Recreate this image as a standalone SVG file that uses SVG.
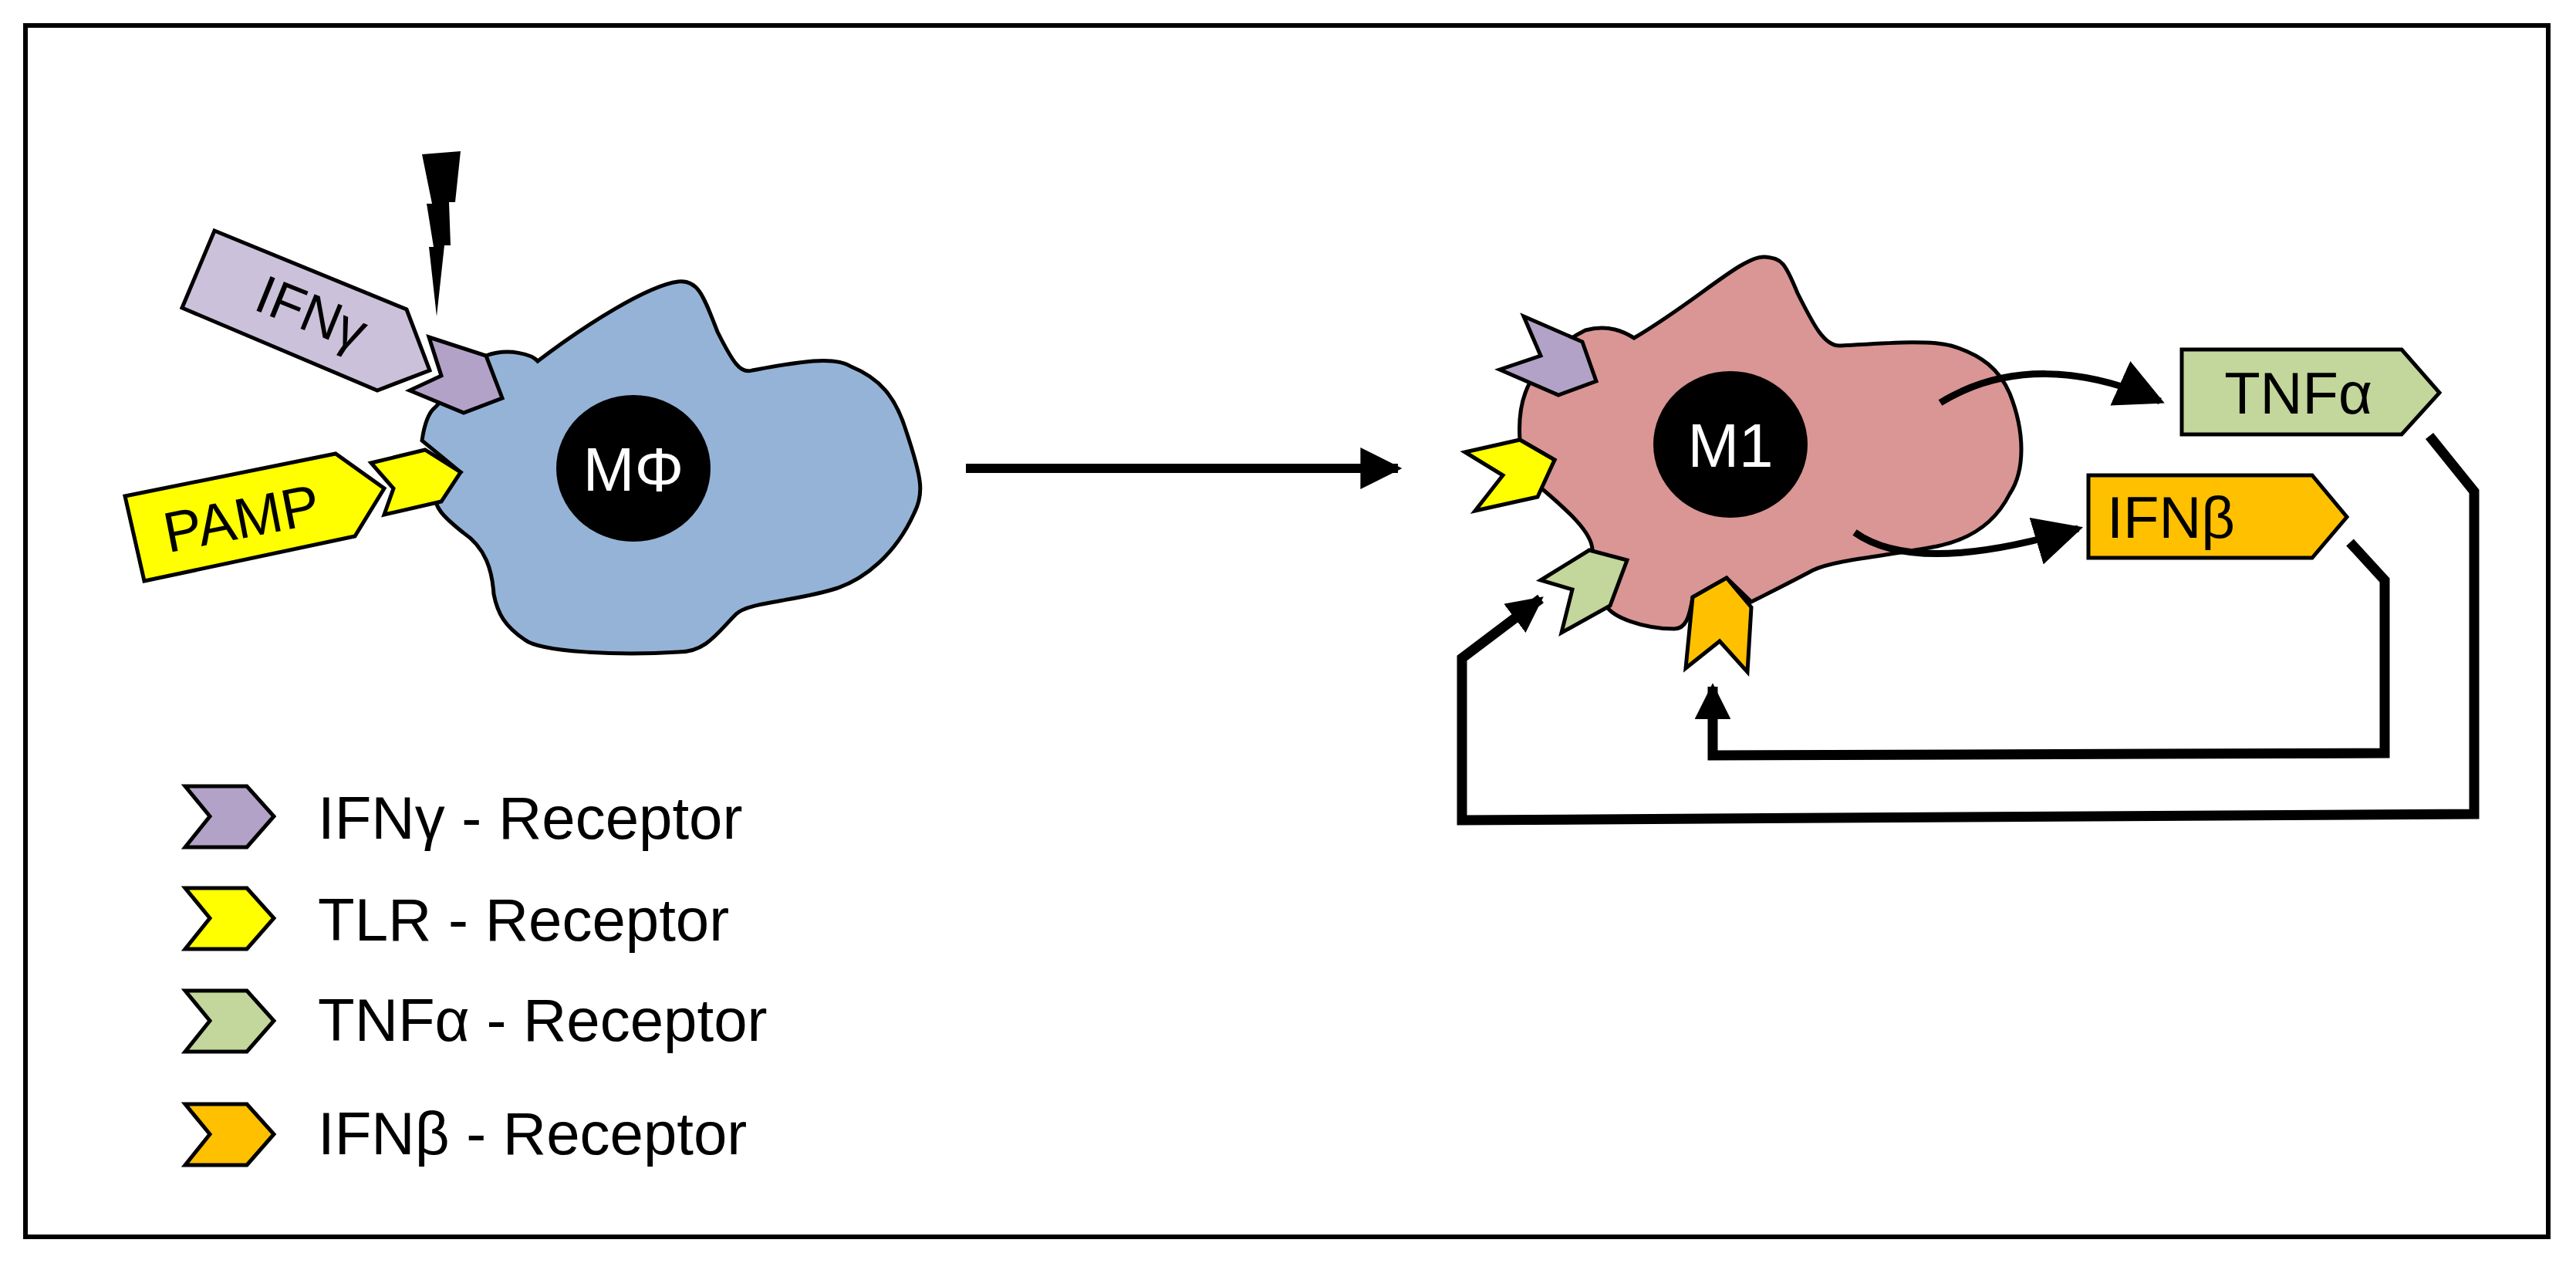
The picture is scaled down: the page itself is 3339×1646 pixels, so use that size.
<svg xmlns="http://www.w3.org/2000/svg" width="3339" height="1646" viewBox="0 0 3339 1646">
<defs>
<style>
.o{stroke:#000;stroke-width:5;stroke-linejoin:miter}
.t{font-family:"Liberation Sans",Arial,sans-serif;fill:#000}
.w{font-family:"Liberation Sans",Arial,sans-serif;fill:#fff;font-size:80px;text-anchor:middle}
.c{fill:none;stroke:#000;stroke-width:9}
.m{fill:none;stroke:#000;stroke-width:12}
.f{fill:none;stroke:#000;stroke-width:13;stroke-linejoin:miter}
</style>
<marker id="ah" viewBox="0 0 10 10" refX="9" refY="5" markerWidth="7" markerHeight="7" orient="auto" markerUnits="strokeWidth"><path d="M0,0 L10,5 L0,10 z" fill="#000"/></marker>
<marker id="ahm" viewBox="0 0 10 10" refX="9" refY="5" markerWidth="5.5" markerHeight="4.5" orient="auto" markerUnits="strokeWidth"><path d="M0,0 L10,5 L0,10 z" fill="#000"/></marker>
<marker id="ah2" viewBox="0 0 10 10" refX="9" refY="5" markerWidth="3.6" markerHeight="3.6" orient="auto" markerUnits="strokeWidth"><path d="M0,0 L10,5 L0,10 z" fill="#000"/></marker>
</defs>
<rect x="33" y="33" width="3270" height="1570" fill="#fff" stroke="#000" stroke-width="6"/>
<g id="lightning"><polygon points="547,200 597,196 590,262 582,262 584,318 576,318 566,410 556,320 562,320 553,264 560,264" fill="#000"/></g>
<g id="mphi-cell">
<path class="o" fill="#95b3d7" d="M630,461 C660,450 690,460 697,468 C760,420 840,370 879,365 C905,362 912,384 930,430 C950,470 960,485 975,480 C1030,470 1080,460 1103,475 C1140,490 1161,514 1175,560 C1195,620 1198,640 1185,665 C1160,720 1120,750 1086,762 C1030,780 970,780 954,796 C930,820 915,845 880,845 C800,850 700,845 680,829 C655,812 645,796 640,770 C638,740 630,710 600,690 C575,670 562,657 564,640 L597,612 L547,571 C550,550 555,535 564,528 Z"/>
<ellipse cx="821" cy="607" rx="100" ry="95" fill="#000"/>
<text class="w" x="821" y="636">MΦ</text>
</g>
<g id="ifng-receptor-left"><polygon class="o" fill="#b3a2c7" points="556,437 630,461 651,516 601,535 531,506 572,487"/></g>
<g id="tlr-receptor-left"><polygon class="o" fill="#ffff00" points="481,600 551,583 597,612 572,650 498,667 510,633"/></g>
<g id="ifng-label">
<polygon class="o" fill="#ccc1da" points="278,299 527,401 557,480 489,506 236,399"/>
<text class="t" font-size="70" text-anchor="middle" transform="translate(395,428) rotate(22)">IFNγ</text>
</g>
<g id="pamp-label">
<polygon class="o" fill="#ffff00" points="162,643 435,588 498,633 460,695 187,753"/>
<text class="t" font-size="74" text-anchor="middle" transform="translate(318,697) rotate(-11)">PAMP</text>
</g>
<g id="m1-cell">
<path class="o" fill="#d99694" d="M2055,428 C2085,420 2105,430 2118,438 C2200,390 2260,330 2288,333 C2310,335 2314,341 2330,380 C2350,420 2365,450 2386,448 C2440,445 2500,440 2529,448 C2570,460 2592,480 2605,510 C2625,560 2625,610 2605,640 C2585,680 2550,700 2511,708 C2450,720 2380,725 2350,739 C2320,755 2290,770 2270,780 L2238,749 L2194,774 C2190,800 2185,815 2170,815 C2130,815 2090,800 2082,785 C2070,760 2064,735 2064,713 C2064,690 2030,660 1997,632 L2015,596 L1970,570 C1968,540 1972,515 1984,494 C2000,465 2030,440 2055,428 Z"/>
<ellipse cx="2243" cy="576" rx="100" ry="95" fill="#000"/>
<text class="w" x="2243" y="605">M1</text>
</g>
<g id="m1-receptors">
<polygon class="o" fill="#b3a2c7" points="1975,410 2051,443 2069,494 2020,512 1944,479 1997,461"/>
<polygon class="o" fill="#ffff00" points="1899,586 1970,570 2015,596 1993,644 1912,662 1948,616"/>
<polygon class="o" fill="#c3d69b" points="1997,752 2060,713 2109,726 2087,785 2024,820 2038,764"/>
<polygon class="o" fill="#ffc000" points="2194,774 2238,749 2270,787 2265,871 2229,831 2185,866"/>
</g>
<g id="tnfa">
<polygon class="o" fill="#c3d69b" points="2828,453 3113,453 3162,509 3113,563 2828,563"/>
<text class="t" font-size="76" x="2979" y="536" text-anchor="middle">TNFα</text>
</g>
<g id="ifnb">
<polygon class="o" fill="#ffc000" points="2707,616 2997,616 3042,670 2997,723 2707,723"/>
<text class="t" font-size="76" x="2814" y="697" text-anchor="middle">IFNβ</text>
</g>
<g id="connectors">
<line class="m" x1="1252" y1="607" x2="1812" y2="607" marker-end="url(#ahm)"/>
<path class="c" d="M2515,522 C2600,470 2700,475 2800,520" marker-end="url(#ah)"/>
<path class="c" d="M2404,690 C2460,730 2560,725 2694,685" marker-end="url(#ah)"/>
<polyline class="f" points="3046,703 3091,752 3091,976 2220,979 2220,890" marker-end="url(#ah2)"/>
<polyline class="f" points="3149,565 3207,637 3207,1055 1895,1063 1895,853 1997,776" marker-end="url(#ah2)"/>
</g>
<g id="legend">
<polygon class="o" fill="#b3a2c7" points="240,1019 320,1019 355,1058 320,1098 240,1098 272,1058"/>
<text class="t" font-size="78" x="412" y="1087">IFNγ - Receptor</text>
<polygon class="o" fill="#ffff00" points="240,1151 320,1151 355,1190 320,1230 240,1230 272,1190"/>
<text class="t" font-size="78" x="412" y="1219">TLR - Receptor</text>
<polygon class="o" fill="#c3d69b" points="240,1284 320,1284 355,1323 320,1363 240,1363 272,1323"/>
<text class="t" font-size="78" x="412" y="1349">TNFα - Receptor</text>
<polygon class="o" fill="#ffc000" points="240,1431 320,1431 355,1470 320,1510 240,1510 272,1470"/>
<text class="t" font-size="78" x="412" y="1496">IFNβ - Receptor</text>
</g>
</svg>
